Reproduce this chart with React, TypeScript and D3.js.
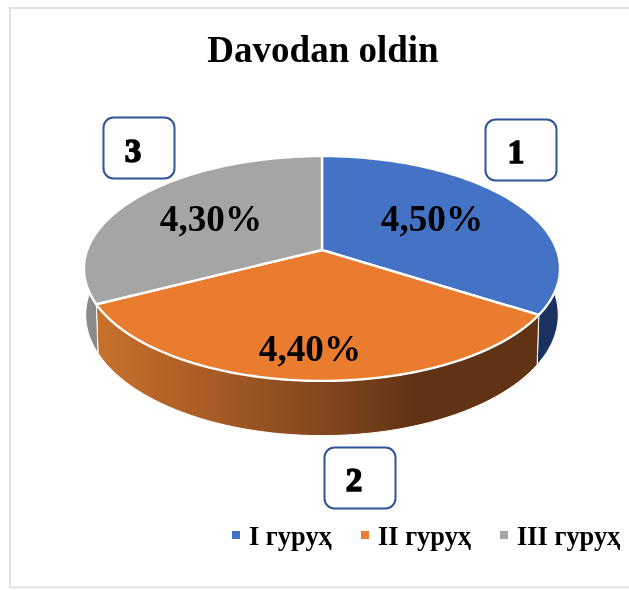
import React from "react";
import * as d3 from "d3";

const categories = ["I гурух", "II гурух", "III гурух"];
const values = [4.5, 4.4, 4.3];
const valueLabels = ["4,50%", "4,40%", "4,30%"];
const topColors = ["#4472c4", "#ea7c30", "#a5a5a5"];
const wallColors = ["#1b3160", "url(#wallOrange)", "#8a8a8a"];
const title = "Davodan oldin";
const calloutLabels = ["1", "2", "3"];

const W = 629, H = 590;
const CX = 322;
const SERIF = "'Liberation Serif', serif";

// Perspective projection of the pie's unit disc
const TILT = 0.1644;
const topDisc = { a: 234.8, b: 109.4, y0: 250 };
const baseDisc = { a: 233, b: 117.5, y0: 295 };
const project = (d: { a: number; b: number; y0: number }, t: number, r = 1): [number, number] => {
  const u = r * Math.sin(t), v = -r * Math.cos(t);
  const k = 1 - TILT * v;
  return [CX + (d.a * u) / k, d.y0 + (d.b * v) / k];
};
const arcPts = (d: typeof topDisc, a0: number, a1: number) =>
  d3.range(0, 121).map((i) => project(d, a0 + ((a1 - a0) * i) / 120));

const line = d3.line();
const slices = d3.pie<number>().sort(null)(values);

const labelPos: [number, number][] = [[432, 231], [310, 361], [211, 231]];
const calloutBoxes = [
  { x: 485.5, y: 119.5, tx: 516, ty: 163 },
  { x: 324.5, y: 447.5, tx: 354, ty: 491 },
  { x: 103.5, y: 117.5, tx: 133, ty: 162 },
];
const legendX = [232, 361, 500];

export default function App() {
  return (
    <svg width={W} height={H} style={{ position: "absolute", left: 0, top: 0, background: "#fff", filter: "blur(0.35px)" }}>
      <defs>
        <linearGradient id="wallOrange" gradientUnits="userSpaceOnUse" x1={96} x2={540} y1={0} y2={0}>
          <stop offset="0" stopColor="#c8712c" />
          <stop offset="0.25" stopColor="#a95c25" />
          <stop offset="0.5" stopColor="#84481f" />
          <stop offset="0.72" stopColor="#603314" />
          <stop offset="1" stopColor="#5f3314" />
        </linearGradient>
      </defs>
      <path d="M629,8H10V587.5H629" fill="none" stroke="#e2e2e2" strokeWidth={2} />
      <text x={323} y={62} textAnchor="middle" fontFamily={SERIF} fontWeight="bold" fontSize={37} fill="#000">
        {title}
      </text>

      {/* side walls */}
      {slices.map((s, i) => {
        const a0 = i === 0 ? 1.2 : s.startAngle;
        const a1 = i === 2 ? 2 * Math.PI - 1.2 : s.endAngle;
        const pts = [...arcPts(topDisc, a0, a1), ...arcPts(baseDisc, a1, a0)];
        return <path key={i} d={line(pts) + "Z"} fill={wallColors[i]} stroke="#fff" strokeWidth={1} />;
      })}

      {/* top face */}
      {slices.map((s, i) => {
        const pts = [project(topDisc, 0, 0), ...arcPts(topDisc, s.startAngle, s.endAngle)];
        return <path key={i} d={line(pts) + "Z"} fill={topColors[i]} stroke="#fff" strokeWidth={2.4} strokeLinejoin="round" />;
      })}

      {slices.map((_, i) => (
        <text key={i} x={labelPos[i][0]} y={labelPos[i][1]} textAnchor="middle" fontFamily={SERIF} fontWeight="bold" fontSize={37.2} fill="#000">
          {valueLabels[i]}
        </text>
      ))}

      {calloutLabels.map((c, i) => (
        <g key={c}>
          <rect x={calloutBoxes[i].x} y={calloutBoxes[i].y} width={71} height={61} rx={10} fill="#fff" stroke="#2f5597" strokeWidth={2} />
          <text x={calloutBoxes[i].tx} y={calloutBoxes[i].ty} textAnchor="middle" fontFamily={SERIF} fontWeight="bold" fontSize={33} stroke="#000" strokeWidth={1.6} fill="#000">
            {c}
          </text>
        </g>
      ))}

      {categories.map((c, i) => (
        <g key={c}>
          <rect x={legendX[i]} y={531} width={8} height={8} fill={topColors[i]} />
          <text x={legendX[i] + 17} y={545} fontFamily={SERIF} fontWeight="bold" fontSize={26.4} fill="#000">
            {c.replace(/х$/, "ҳ")}
          </text>
        </g>
      ))}
    </svg>
  );
}
